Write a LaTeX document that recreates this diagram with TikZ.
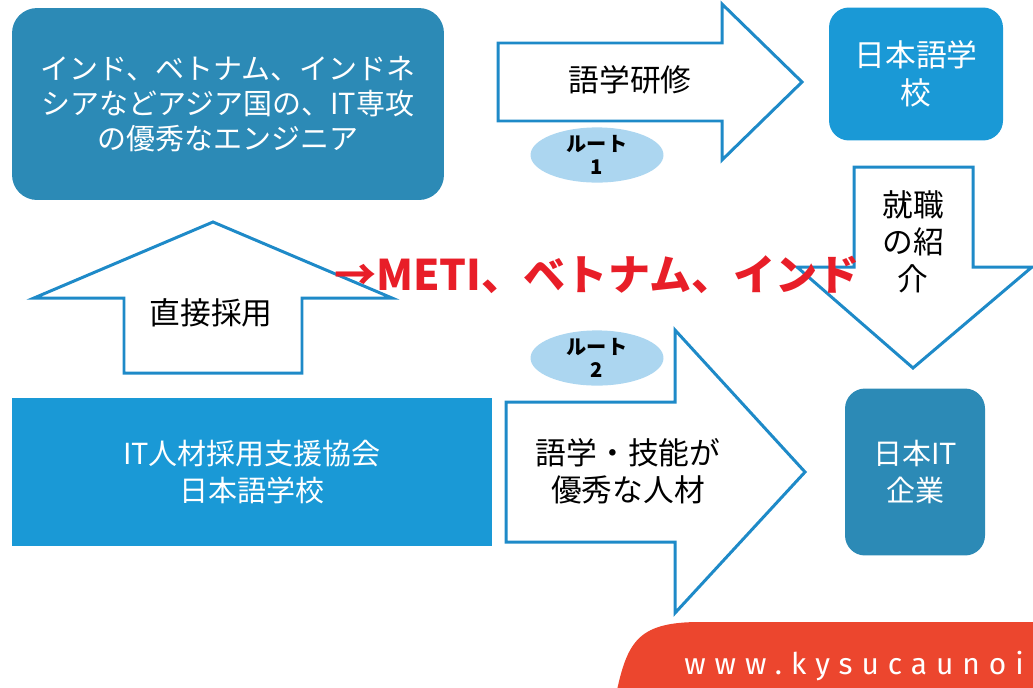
\documentclass[tikz,border=0pt]{standalone}
\usepackage{fontspec}
\setmainfont{Noto Sans CJK JP}
\newfontfamily\urlfont{Fira Sans}[LetterSpace=30]
\usetikzlibrary{shapes.geometric}

\definecolor{boxteal}{RGB}{44,138,182}
\definecolor{boxblue}{RGB}{26,153,214}
\definecolor{arrowblue}{RGB}{30,138,200}
\definecolor{routeblue}{RGB}{172,214,240}
\definecolor{metired}{RGB}{232,30,40}
\definecolor{bannerred}{RGB}{236,70,46}

\begin{document}
\begin{tikzpicture}[x=0.02cm, y=-0.02cm]

\tikzset{box/.style = {rectangle, text=white, align=center, inner sep=0pt, font=\fontsize{16.5}{20}\selectfont}}
\tikzset{bigarrow/.style = {draw=arrowblue, fill=white, line width=1.7pt, line join=miter}}
\tikzset{label/.style = {align=center, font=\fontsize{17.5}{21}\selectfont}}
\tikzset{route/.style = {shape=ellipse, fill=routeblue, minimum width=2.66cm, minimum height=1.0cm, inner sep=0pt, align=center, font=\bfseries\fontsize{11.5}{13}\selectfont}}
\useasboundingbox (0,0) rectangle (1033,687);

% boxes
\node[box, fill=boxteal, rounded corners=0.5cm, minimum width=8.64cm, minimum height=3.84cm] (engineer) at (228,104) {インド、ベトナム、インドネ\\シアなどアジア国の、IT専攻\\の優秀なエンジニア};
\node[box, fill=boxblue, rounded corners=0.4cm, minimum width=3.48cm, minimum height=2.66cm, font=\fontsize{17.5}{21.5}\selectfont] (school) at (916,74) {日本語学\\校};
\node[box, fill=boxblue, minimum width=9.6cm, minimum height=2.96cm, font=\fontsize{16.5}{21.5}\selectfont] (assoc) at (252,472) {IT人材採用支援協会\\日本語学校};
\node[box, fill=boxteal, rounded corners=0.4cm, minimum width=2.8cm, minimum height=3.34cm, font=\fontsize{16.5}{21}\selectfont] (company) at (915,472) {日本IT\\企業};

% arrows
\draw[bigarrow] (498,43) -- (722,43) -- (722,4) -- (802,82) -- (722,160) -- (722,121) -- (498,121) -- cycle;
\draw[bigarrow] (506,402) -- (675,402) -- (675,330) -- (805,472) -- (675,613) -- (675,542) -- (506,542) -- cycle;
\draw[bigarrow] (854,167) -- (973,167) -- (973,267) -- (1032,267) -- (913,368) -- (797,267) -- (854,267) -- cycle;
\draw[bigarrow] (213,222) -- (392,298) -- (302,298) -- (302,373) -- (124,373) -- (124,298) -- (34,298) -- cycle;

% arrow texts
\node[label] (study) at (630,80) {語学研修};
\node[label] (talent) at (628,471) {語学・技能が\\優秀な人材};
\node[label] (intro) at (913,242) {就職\\の紹\\介};
\node[label] (direct) at (211,313) {直接採用};

% routes
\node[route] (route1) at (597,155) {ルート\\1};
\node[route] (route2) at (597,358) {ルート\\2};

\node[text=metired, font=\bfseries\fontsize{24}{28}\selectfont] (meti) at (597,275) {→METI、ベトナム、インド};

% banner
\fill[bannerred] (617,690) .. controls (628,640) and (640,622) .. (700,622) -- (1040,622) -- (1040,690) -- cycle;
\node[anchor=base west, text=white, inner sep=0pt, font=\urlfont\fontsize{17}{19}\selectfont] (url) at (684,674) {www.kysucaunoi};

\end{tikzpicture}
\end{document}
